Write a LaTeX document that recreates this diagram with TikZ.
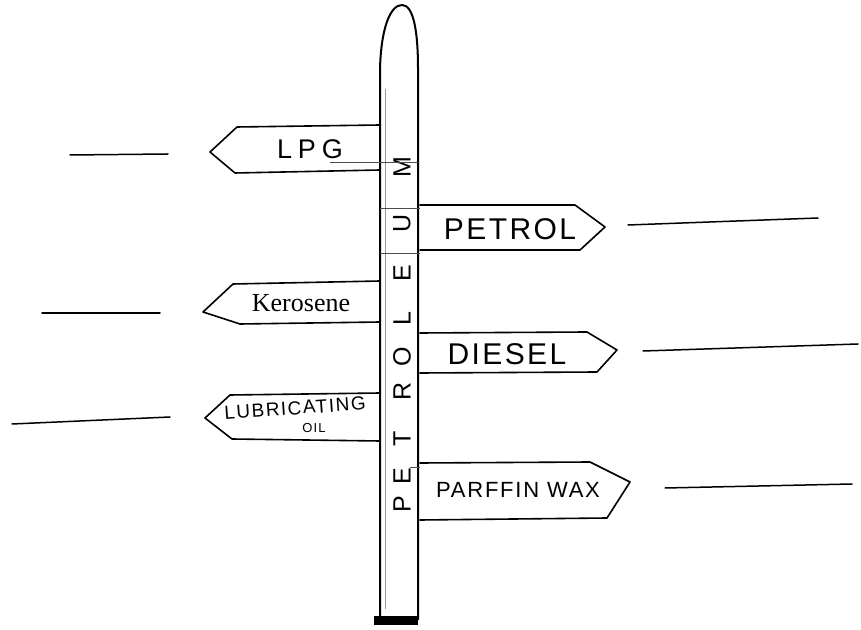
\documentclass[tikz,border=0pt]{standalone}
\usepackage{fontspec}
\newfontfamily\handfont[LetterSpace=8]{Liberation Sans}
\newfontfamily\handwide[LetterSpace=22]{Liberation Sans}
\newfontfamily\kerofont{Liberation Serif}
\begin{document}
\begin{tikzpicture}[x=1pt,y=1pt,
  sign/.style={line width=1.6pt, line join=round, line cap=round},
  dashline/.style={line width=1.5pt, line cap=round},
  thinline/.style={line width=0.8pt, black!70},
  lab/.style={inner sep=0pt, font=\handfont},
  poleletter/.style={inner sep=0pt, rotate=90, font=\fontsize{25}{25}\selectfont\handfont}]
\useasboundingbox (0,0) rectangle (861,629);
% pole
\draw[line width=2pt, line join=round] (380,9) -- (380,560)
  .. controls (381,600) and (390,624) .. (402,624)
  .. controls (413,624) and (418,600) .. (418,560) -- (418,9);
\draw[thinline, black!40] (385,20) -- (385,540);
\fill (374,4) rectangle (418,13);
% pole letters
\node[poleletter] (pM) at (402,462) {M};
\node[poleletter] (pU) at (402,406) {U};
\node[poleletter] (pE1) at (402,356) {E};
\node[poleletter] (pL) at (402,310) {L};
\node[poleletter] (pO) at (402,272) {O};
\node[poleletter] (pR) at (402,238) {R};
\node[poleletter] (pT) at (402,190) {T};
\node[poleletter] (pE2) at (402,153) {E};
\node[poleletter] (pP) at (402,125) {P};
% LPG sign
\draw[sign] (380,504) -- (237,502) -- (210,477) -- (235,456) -- (380,459);
\draw[thinline] (330,467) -- (418,467);
\node[lab, font=\fontsize{27}{27}\selectfont\handwide] (lpg) at (310,480) {LPG};
% PETROL sign
\draw[sign] (420,424) -- (575,424) -- (605,402) -- (580,379) -- (420,379);
\draw[thinline] (380,421) -- (420,421);
\draw[thinline] (380,376) -- (420,376);
\node[lab, font=\fontsize{30}{30}\selectfont\handfont] (petrol) at (510,400) {PETROL};
% Kerosene sign
\draw[sign] (380,348) -- (233,345) -- (203,317) -- (240,305) -- (380,307);
\node[inner sep=0pt, font=\fontsize{26}{26}\selectfont\kerofont] (kero) at (301,326) {Kerosene};
% DIESEL sign
\draw[sign] (420,296) -- (587,297) -- (617,279) -- (597,257) -- (420,256);
\node[lab, font=\fontsize{30}{30}\selectfont\handfont] (diesel) at (507,275) {DIESEL};
% LUBRICATING OIL sign
\draw[sign] (380,236) -- (230,234) -- (205,211) -- (232,190) -- (380,188);
\node[lab, rotate=4, font=\fontsize{19}{19}\selectfont\handfont] (lub) at (295,221) {LUBRICATING};
\node[lab, font=\fontsize{13}{13}\selectfont\handfont] (oil) at (314,201) {OIL};
% PARFFIN WAX sign
\draw[sign] (420,166) -- (590,167) -- (630,147) -- (607,111) -- (420,109);
\draw[thinline] (410,162) -- (420,162);
\node[lab, font=\fontsize{22}{22}\selectfont\handfont] (wax) at (518,139) {PARFFIN WAX};
% dashes
\coordinate (d1a) at (70,474);  \coordinate (d1b) at (168,475);
\coordinate (d2a) at (628,404); \coordinate (d2b) at (818,411);
\coordinate (d3a) at (42,316);  \coordinate (d3b) at (160,316);
\coordinate (d4a) at (643,278); \coordinate (d4b) at (858,285);
\coordinate (d5a) at (12,205);  \coordinate (d5b) at (170,212);
\coordinate (d6a) at (665,141); \coordinate (d6b) at (852,145);
\draw[dashline] (d1a) -- (d1b);
\draw[dashline] (d2a) -- (d2b);
\draw[dashline] (d3a) -- (d3b);
\draw[dashline] (d4a) -- (d4b);
\draw[dashline] (d5a) -- (d5b);
\draw[dashline] (d6a) -- (d6b);
\end{tikzpicture}
\end{document}
